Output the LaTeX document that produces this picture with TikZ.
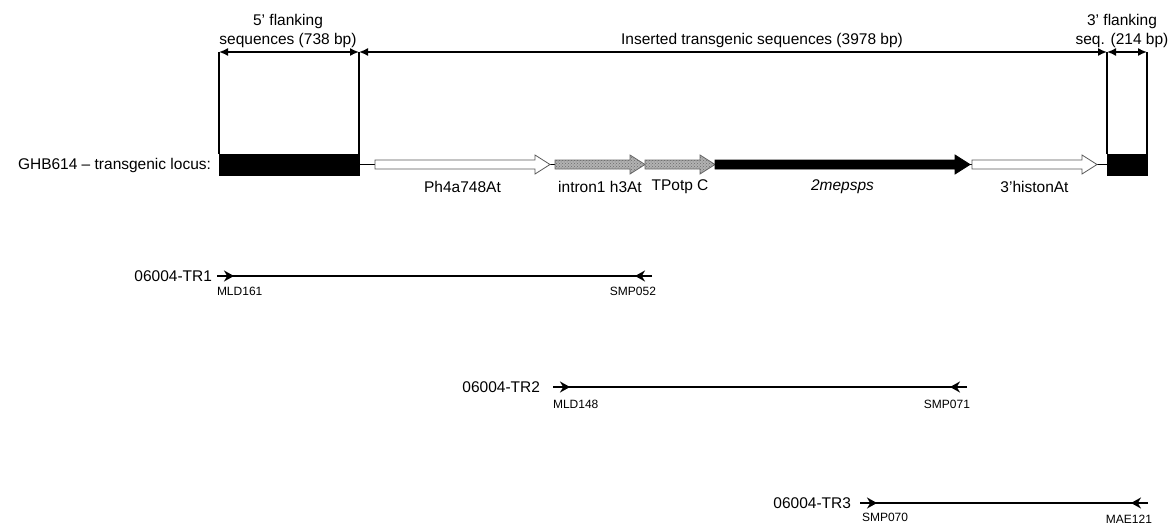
\documentclass[tikz,border=0pt]{standalone}
\usepackage{fontspec}
\setmainfont{Liberation Sans}
\usetikzlibrary{arrows.meta, positioning, patterns}

% gene arrow: style, x start, x end, name of label anchor
\newcommand{\genearrow}[4]{%
  \draw[#1] (#2,160) -- (#3-15,160) -- (#3-15,155) -- (#3,164.5)
    -- (#3-15,174) -- (#3-15,169) -- (#2,169) -- cycle;
  \coordinate (#4) at ({(#2+#3)/2},187);}

\begin{document}
\begin{tikzpicture}[x=1pt, y=-1pt,
  every node/.style={inner sep=0pt, outer sep=0pt},
  txt/.style={font=\fontsize{15.5}{19}\selectfont},
  primtxt/.style={font=\fontsize{12}{14}\selectfont},
  dim/.style={line width=1.6pt, {Latex[length=9pt,width=8pt]}-{Latex[length=9pt,width=8pt]}},
  vline/.style={line width=1.2pt},
  flank/.style={rectangle, fill=black, draw=black, minimum height=21pt, anchor=north west},
  genewhite/.style={fill=white, draw=black!65, line width=0.8pt},
  genegray/.style={preaction={fill=gray!60}, pattern=crosshatch dots, pattern color=gray!85!black, draw=black!60, line width=0.8pt},
  geneblack/.style={fill=black, draw=black, line width=0.8pt},
  stub/.style={line width=2.2pt, -{Stealth[length=10pt,width=11pt]}},
  amplicon/.style={line width=1.3pt}]
  \useasboundingbox (0,0) rectangle (1176,525);

  % locus
  \coordinate (top) at (0,52);
  \node[flank, minimum width=140pt] (fl5) at (219,154) {};
  \node[flank, minimum width=40pt] (fl3) at (1107,154) {};
  \node[txt, anchor=east] (locus) at (211,165) {GHB614 -- transgenic locus:};
  \draw[line width=1pt] (fl5.east) -- (fl3.west);

  \genearrow{genewhite}{375}{550}{g1}
  \genearrow{genegray}{555}{645}{g2}
  \genearrow{genegray}{645}{715}{g3}
  \genearrow{geneblack}{715}{970}{g4}
  \genearrow{genewhite}{972}{1097}{g5}

  \node[txt] at (g1) {Ph4a748At};
  \node[txt] at (g2) {intron1 h3At};
  \node[txt] at (g3) {TPotp C};
  \node[txt] at (g4) {\itshape 2mepsps};
  \node[txt] at (g5) {3'histonAt};

  % border lines and sizes
  \foreach \c in {fl5.north west, fl5.north east, fl3.north west, fl3.north east}
    \draw[vline] (\c) -- (\c |- top);
  \draw[dim] (fl5.north west |- top) -- (fl5.north east |- top);
  \draw[dim] (fl5.north east |- top) -- (fl3.north west |- top);
  \draw[dim] (fl3.north west |- top) -- (fl3.north east |- top);

  \node[txt, align=center] at (288,30.5) {5' flanking\\sequences (738 bp)};
  \node[txt] at (762,40) {Inserted transgenic sequences (3978 bp)};
  \node[txt, align=center] at (1122,30.5) {3' flanking\\seq. (214 bp)};

  % amplicons
  \node[txt, anchor=east] (tr1) at (212,276) {06004-TR1};
  \coordinate (tr1a) at (217,276);
  \coordinate (tr1b) at (652,276);
  \node[txt, anchor=east] (tr2) at (540,387) {06004-TR2};
  \coordinate (tr2a) at (553,387);
  \coordinate (tr2b) at (967,387);
  \node[txt, anchor=east] (tr3) at (851,503) {06004-TR3};
  \coordinate (tr3a) at (860,503);
  \coordinate (tr3b) at (1148,503);

  \foreach \t in {tr1, tr2, tr3} {
    \draw[amplicon] (\t a) -- (\t b);
    \draw[stub] (\t a) -- ++(17,0);
    \draw[stub] (\t b) -- ++(-17,0);
  }

  \node[primtxt, anchor=north west] at ([yshift=-11pt]tr1a) {MLD161};
  \node[primtxt, anchor=north east] at ([xshift=4pt,yshift=-11pt]tr1b) {SMP052};
  \node[primtxt, anchor=north west] at ([yshift=-13pt]tr2a) {MLD148};
  \node[primtxt, anchor=north east] at ([xshift=3pt,yshift=-13pt]tr2b) {SMP071};
  \node[primtxt, anchor=north west] at ([xshift=2pt,yshift=-10pt]tr3a) {SMP070};
  \node[primtxt, anchor=north east] at ([xshift=4pt,yshift=-12pt]tr3b) {MAE121};
\end{tikzpicture}
\end{document}
